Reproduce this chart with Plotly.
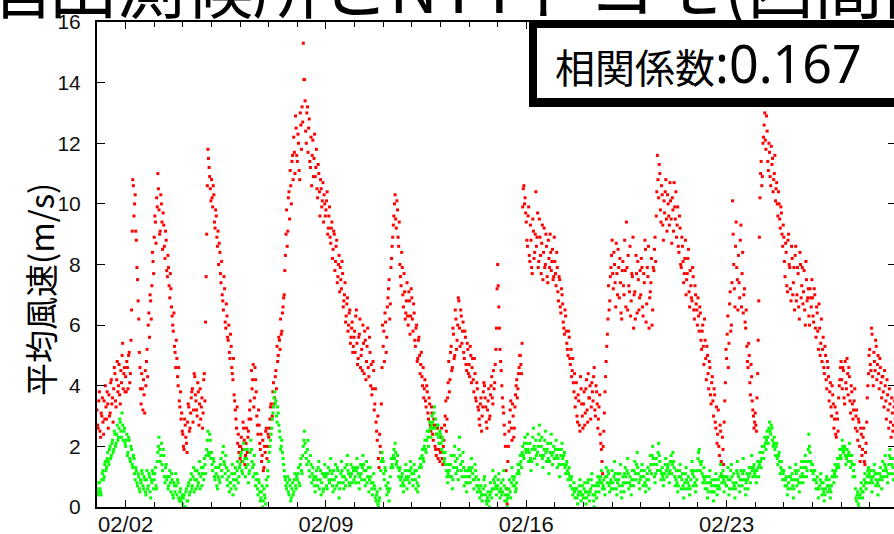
import pandas as pd
import plotly.graph_objects as go

# ---- data: values on the hour (…_a) and on the half hour (…_b) ----
start = "2016-02-01 00:00"
x_range = ["2016-02-01 00:00", "2016-02-28 20:24"]

red_w1_a = [3.2,2.6,3.8,2.3,3.0,2.8,3.5,4.0,2.9,3.4,3.7,3.1,4.2,3.6,3.9,4.4,3.3,4.8,4.0,3.7,4.5,5.0,3.9,4.6,
            4.3,4.8,3.9,5.1,4.4,6.5,10.8,9.6,10.3,8.8,7.5,6.2,4.6,3.4,3.9,4.2,3.1,4.0,5.2,6.0,5.6,6.8,7.3,8.1,
            8.9,9.4,10.2,11.0,9.8,9.1,10.0,8.5,9.3,8.2,8.8,7.6,7.9,6.9,7.2,6.3,5.8,5.3,4.6,4.9,4.0,3.5,3.8,3.1,
            2.4,1.9,2.7,2.1,2.8,3.3,2.6,3.6,3.9,3.2,4.3,3.5,3.0,3.8,3.4,2.9,3.6,3.1,4.4,6.1,9.0,11.8,11.2,10.5,
            10.8,9.9,10.3,9.2,9.6,8.6,8.0,8.4,7.4,7.0,6.5,7.2,5.9,6.3,5.5,5.1,5.7,4.6,4.2,3.7,3.2,2.6,2.1,1.8,
            1.6,2.3,1.9,2.6,1.4,2.1,1.8,2.5,3.2,2.9,3.9,4.7,3.6,4.2,3.0,2.4,2.7,1.9,1.5,2.2,1.3,1.8,2.6,2.0,
            2.3,2.9,3.4,3.0,4.1,3.6,4.5,5.3,5.0,5.5,6.2,5.8,6.6,7.0,8.3,9.8,9.1,10.4,11.1,10.0,11.6,12.2,11.0,12.5]
red_w1_b = [2.7,3.5,2.5,3.1,3.6,2.4,2.9,3.3,3.8,2.6,3.0,4.1,3.4,2.8,4.6,3.5,4.2,3.8,4.7,3.4,4.1,5.4,4.4,3.8,
            3.8,4.6,5.0,4.1,5.5,9.1,10.6,10.0,9.1,7.9,6.8,5.1,3.9,4.4,3.2,3.7,4.5,4.8,4.3,6.4,7.0,6.2,8.4,7.7,
            9.6,8.7,9.9,10.5,9.0,10.3,9.4,9.7,8.6,9.1,7.8,8.3,7.3,7.7,6.6,6.0,6.4,5.1,5.5,4.3,4.6,3.3,2.9,2.5,
            2.0,2.9,2.3,1.8,3.4,2.5,3.1,3.8,2.8,4.4,3.7,3.2,4.1,2.7,3.9,3.3,2.6,4.2,3.5,7.6,10.6,11.5,10.9,10.1,
            10.2,10.6,9.4,9.8,8.9,9.1,8.7,7.7,8.1,6.8,7.6,6.1,6.7,5.6,6.0,4.9,5.3,4.4,4.9,3.5,2.9,3.3,2.4,2.0,
            2.0,1.5,2.8,2.2,1.7,2.6,2.3,2.9,3.5,4.5,4.2,3.3,4.6,3.8,2.7,3.2,2.1,2.4,1.7,1.2,2.0,2.5,1.6,2.4,
            2.6,3.3,2.9,3.8,3.4,4.3,3.9,4.8,5.6,5.2,5.7,6.4,6.9,7.8,9.0,8.6,10.2,9.5,10.6,11.4,10.8,11.7,12.9,11.6]
red_w2_a = [11.4,12.0,10.8,12.6,13.2,15.3,14.1,12.4,13.0,11.7,12.8,11.2,10.6,12.1,11.5,10.9,11.8,10.2,11.0,9.6,10.5,10.1,9.4,10.0,
            9.8,10.4,9.2,9.9,8.7,9.4,8.5,9.0,8.1,8.8,7.6,8.3,7.9,7.2,7.7,6.8,7.4,6.3,6.9,6.0,6.5,5.6,6.1,5.3,
            5.8,6.3,5.4,4.9,5.7,4.6,5.2,6.0,4.4,5.5,4.8,5.9,4.3,5.1,4.7,3.9,4.5,3.4,2.8,2.2,1.6,2.4,1.8,4.6,
            5.3,4.8,6.1,5.6,6.9,7.5,6.7,8.2,8.9,9.6,10.3,9.2,9.8,8.6,8.0,7.3,7.9,6.6,7.1,6.4,7.4,6.0,6.8,6.3,
            6.9,5.8,6.4,5.3,6.0,4.9,5.6,4.4,5.1,4.0,3.6,4.2,3.3,3.8,2.9,3.4,2.5,3.1,2.2,2.7,1.9,2.4,1.6,2.1,
            1.8,2.6,1.4,2.2,3.0,2.5,3.6,4.8,4.2,5.3,4.6,5.7,5.0,6.2,5.5,6.9,5.9,6.5,5.4,6.1,4.9,5.6,4.5,5.2,
            4.7,5.3,4.1,4.9,3.8,4.4,3.5,3.9,3.2,2.7,3.6,3.0,3.8,4.0,3.3,2.6,3.5,2.9,3.7,4.3,3.4,3.9,4.7,5.9]
red_w2_b = [12.3,11.1,13.0,11.8,12.7,14.1,13.4,12.0,13.2,12.5,11.4,12.2,11.6,10.9,12.3,11.2,10.5,11.3,10.4,10.8,9.9,10.7,10.3,9.6,
            10.1,9.0,9.6,8.9,9.2,8.2,9.1,7.8,8.6,7.4,8.0,7.1,7.5,8.1,6.6,7.0,6.1,6.7,5.8,6.4,5.4,5.9,5.1,5.6,
            5.1,6.5,4.7,5.6,6.2,5.0,4.5,5.4,5.8,4.2,5.3,4.6,5.6,4.0,3.7,4.8,3.2,3.9,2.5,3.0,1.3,2.0,3.4,6.0,
            5.8,6.4,5.1,6.6,7.2,6.2,7.9,8.6,9.3,10.0,9.5,10.1,8.9,9.4,7.6,8.4,7.0,7.7,6.2,6.8,6.3,7.1,5.7,7.2,
            6.2,6.7,5.5,5.9,4.8,5.5,5.0,4.7,4.3,4.6,3.9,3.5,4.0,3.1,3.6,2.7,3.3,2.4,2.9,2.0,1.7,2.6,1.9,1.5,
            2.3,1.6,2.0,2.7,3.5,2.9,4.1,3.8,5.1,4.5,5.9,4.9,6.5,5.2,6.0,6.8,5.3,6.3,5.8,5.1,5.8,4.7,5.4,4.4,
            4.3,5.0,4.6,4.2,4.9,3.6,4.1,3.3,2.9,3.4,2.5,3.3,4.1,3.6,2.8,3.2,3.9,3.0,4.0,3.6,4.5,4.1,5.2,7.2]
red_w3_a = [8.0,6.6,5.2,4.5,3.6,3.1,2.4,1.2,0.1,2.0,2.8,3.5,2.2,3.0,2.6,3.7,4.2,3.9,4.6,5.0,4.4,9.9,10.6,10.2,
            9.4,8.6,9.9,8.1,8.8,7.7,9.1,8.4,10.4,8.9,7.9,9.5,8.3,8.7,7.5,9.2,8.0,8.6,7.4,8.2,9.0,7.8,8.5,7.6,
            8.1,7.3,7.9,6.8,7.5,6.4,7.0,6.1,5.7,6.3,5.4,5.0,5.6,4.7,4.3,4.9,3.8,3.3,4.1,2.8,3.5,2.5,3.9,3.0,
            3.4,2.7,3.9,3.2,4.4,3.6,2.9,4.1,3.5,4.6,3.0,3.8,2.6,3.3,2.4,1.9,1.1,2.5,3.8,4.8,5.7,7.3,6.8,7.9,
            8.8,7.2,8.0,6.6,7.7,8.5,6.9,7.4,6.2,8.1,7.0,7.8,9.4,6.5,7.3,8.6,6.8,7.6,5.9,7.1,8.3,6.4,7.5,6.9,
            7.0,7.9,6.3,7.4,8.5,6.7,7.6,5.9,7.1,8.2,6.5,7.8,8.9,9.6,11.6,10.2,11.0,9.4,10.3,8.8,9.7,10.8,9.1,10.0,
            9.3,10.1,8.7,9.8,10.7,9.5,8.9,9.9,8.4,9.2,7.9,8.6,7.4,8.2,7.0,7.7,8.5,6.6,7.3,6.8,7.6,6.2,7.0,6.5]
red_w3_b = [7.3,5.9,4.8,4.0,3.3,2.7,2.0,0.6,1.5,2.5,3.2,2.6,3.4,2.3,3.3,4.0,3.6,4.4,5.0,4.7,5.4,10.5,10.0,9.7,
            8.8,9.6,8.3,9.3,7.9,9.5,8.2,9.0,8.6,9.7,8.1,8.9,7.7,9.3,8.4,7.9,9.0,7.6,8.8,7.9,8.4,8.1,7.5,8.9,
            7.7,8.4,7.1,7.6,6.6,7.2,6.7,5.9,6.5,5.8,5.2,5.8,4.9,5.2,4.5,4.1,4.4,3.6,3.0,3.7,2.7,4.3,3.4,2.6,
            3.8,3.1,4.2,2.8,3.6,4.0,3.3,3.8,4.3,3.2,4.0,3.4,2.9,3.7,2.1,1.5,2.0,3.1,4.3,5.3,6.2,6.5,7.6,8.3,
            7.7,8.4,7.4,8.7,7.0,7.9,8.2,6.4,7.8,7.3,8.8,6.6,7.9,8.3,7.1,6.3,7.7,8.9,7.0,6.2,7.7,8.1,6.5,7.8,
            8.2,6.6,7.7,8.8,6.1,7.9,8.6,6.9,7.4,6.0,7.9,8.5,8.1,10.4,10.8,11.3,9.8,10.6,9.3,10.1,10.4,9.5,10.3,9.6,
            10.7,9.5,10.2,9.1,9.9,10.4,9.3,8.6,9.6,8.0,8.9,8.1,7.7,8.8,7.5,8.2,7.1,7.8,6.9,7.9,6.5,7.3,6.7,6.0]
red_w4_a = [6.9,5.8,6.4,5.2,6.0,4.7,5.5,4.2,5.0,3.9,4.6,3.4,4.3,3.0,3.7,2.6,2.1,3.2,1.7,2.5,1.0,1.9,2.8,4.1,
            4.9,6.3,5.4,7.1,6.0,10.1,8.0,6.6,9.4,7.5,8.3,6.9,9.3,7.7,6.4,7.2,5.9,5.3,4.6,5.0,3.7,4.3,3.2,2.6,
            3.1,2.5,4.4,6.8,10.2,11.4,10.9,12.2,13.0,11.8,12.4,11.1,11.7,10.6,11.3,10.4,11.0,10.1,10.7,9.6,10.0,9.2,9.7,8.6,
            8.9,7.6,8.4,7.1,9.0,7.9,6.8,8.2,7.4,6.5,8.6,7.0,7.7,6.2,8.0,7.3,6.7,7.8,6.0,7.5,6.9,6.3,7.2,6.6,
            6.9,6.1,7.0,5.6,6.4,5.2,5.9,5.4,4.8,5.6,4.4,5.0,3.9,4.6,3.5,4.1,3.0,3.7,2.6,3.3,2.3,2.9,3.6,4.2,
            4.8,3.9,4.5,3.4,4.1,4.9,3.7,4.3,3.1,3.8,2.9,3.5,2.6,3.2,2.2,2.8,1.5,2.4,1.9,2.6,1.4,2.1,3.6,4.4,
            5.2,4.5,5.7,4.0,4.8,5.5,4.2,5.0,3.9,4.6,3.6,4.3,3.3,4.0,2.9,3.7,2.6,3.4,2.3,3.1,2.7,3.5,2.4,3.0]
red_w4_b = [6.3,6.6,5.5,5.8,5.3,6.2,4.9,5.3,4.4,4.8,3.7,4.1,3.5,3.9,2.8,3.3,2.4,2.0,2.7,1.5,2.3,1.4,3.5,5.2,
            5.7,4.6,6.7,5.8,7.4,9.0,7.2,8.6,7.9,6.5,7.4,8.8,6.6,8.4,7.0,6.1,6.5,4.8,5.4,4.1,4.7,3.5,3.0,2.8,
            2.7,3.6,5.5,8.9,11.0,10.6,12.0,12.6,12.1,12.9,11.4,12.0,10.9,11.9,11.5,10.8,11.6,10.5,10.0,10.4,9.5,9.9,9.0,9.3,
            8.1,8.7,7.3,8.8,8.0,7.2,8.6,7.0,7.9,8.3,6.8,7.9,6.6,8.4,6.9,7.9,7.1,6.5,8.1,6.8,7.2,6.0,6.9,7.5,
            6.3,7.2,5.9,6.6,5.8,6.7,5.0,6.2,5.2,4.6,5.3,4.2,4.8,4.3,3.8,3.3,4.0,3.4,2.9,2.4,3.1,2.5,4.0,4.6,
            4.2,4.6,3.6,4.8,3.9,4.4,4.6,3.5,4.0,3.4,3.2,3.9,3.0,2.5,2.9,2.0,2.6,1.7,2.3,1.5,1.8,2.8,4.0,5.0,
            4.7,5.9,4.3,5.1,4.5,5.3,4.7,4.4,4.9,4.1,4.3,3.8,4.5,3.5,4.2,3.2,3.9,2.8,3.6,2.5,3.3,2.9,3.6,2.7]

green_w1_a = [0.6,0.4,0.8,0.5,0.9,1.2,1.0,1.5,1.3,1.8,1.4,2.0,1.7,2.2,1.9,2.4,2.1,2.7,2.3,2.9,2.5,3.1,2.2,2.6,
              2.0,2.4,1.8,2.2,1.5,1.9,1.3,1.6,0.9,1.2,0.7,1.0,0.5,0.8,1.1,0.6,0.9,0.4,1.2,0.7,1.0,0.3,0.8,1.1,
              0.9,1.3,0.6,1.8,2.3,1.5,2.1,1.2,1.7,0.8,1.4,1.0,0.7,1.2,0.5,0.9,0.3,0.7,1.1,0.4,0.8,0.2,0.6,0.3,
              0.1,0.4,0.0,0.6,0.2,0.8,0.5,1.1,0.7,1.3,0.9,0.6,1.2,0.8,1.5,1.0,0.7,1.3,1.6,1.1,1.9,2.5,1.7,2.2,
              1.8,1.2,1.5,0.9,1.1,0.6,1.3,0.8,1.6,1.0,2.0,1.4,1.7,0.9,1.2,0.5,0.8,1.1,0.4,0.7,1.3,0.9,1.5,1.0,
              1.4,1.8,1.1,2.1,1.6,1.3,1.9,0.8,1.2,2.2,1.5,1.0,1.7,0.7,1.1,0.4,0.8,0.2,0.5,0.0,0.6,0.3,0.9,1.2,
              1.5,2.0,2.4,2.9,3.3,3.8,3.5,2.8,3.1,2.5,1.9,2.2,1.6,1.2,0.9,0.6,1.0,0.4,0.7,0.3,0.8,0.5,1.1,0.6]
green_w1_b = [0.5,0.8,0.6,0.4,1.1,0.9,1.4,1.2,1.6,1.5,1.9,1.6,2.1,1.8,2.5,2.0,2.4,2.2,2.6,2.8,2.3,2.7,2.5,2.1,
              2.2,1.7,2.3,1.6,2.0,1.4,1.7,1.1,1.3,0.8,1.1,0.6,0.9,1.2,0.7,1.0,0.5,0.9,0.6,1.1,0.5,0.9,1.2,0.6,
              1.1,0.7,1.5,2.0,1.9,1.7,1.4,1.9,1.0,1.3,0.9,0.6,1.0,0.8,1.1,0.4,0.8,0.5,0.7,0.9,0.3,0.5,0.2,0.4,
              0.3,0.0,0.5,0.2,0.7,0.4,0.9,0.6,1.0,0.5,1.2,0.9,0.7,1.1,0.6,1.3,1.1,0.9,1.4,1.7,2.2,1.8,2.4,1.6,
              1.4,1.6,1.0,1.3,0.7,1.0,0.9,1.4,1.2,1.8,1.5,1.1,1.3,0.7,1.0,0.8,0.6,1.4,0.9,1.1,0.6,1.2,0.8,1.3,
              1.7,1.2,1.5,1.9,1.0,1.6,1.4,1.1,1.8,1.9,1.3,1.4,1.1,0.9,0.6,0.9,0.5,0.3,0.7,0.2,0.4,0.1,0.7,1.0,
              1.8,2.2,2.6,3.1,3.6,3.4,3.0,3.3,2.7,2.3,2.0,1.8,1.4,1.0,0.7,0.8,0.5,0.9,0.2,0.6,0.4,0.9,0.7,1.0]
green_w2_a = [0.9,1.3,0.7,1.6,1.1,2.0,2.5,1.8,1.4,2.2,1.2,1.7,0.8,1.3,1.0,0.5,1.2,0.7,1.5,0.9,0.4,1.1,0.6,1.4,
              1.0,0.6,1.3,0.8,1.6,1.1,0.5,0.9,1.4,0.7,1.2,0.3,0.8,1.5,1.0,0.6,1.3,0.9,1.7,1.1,0.7,1.4,0.8,1.2,
              1.3,0.8,1.6,1.1,0.6,1.4,0.9,1.7,1.2,0.7,1.5,1.0,0.5,1.3,0.8,0.4,1.1,0.6,0.2,0.5,0.0,0.3,1.2,1.8,
              1.5,0.9,1.2,0.4,0.8,0.2,1.0,1.6,1.3,1.9,2.1,1.4,1.7,1.0,1.3,0.7,1.1,0.5,0.9,1.4,0.6,1.2,0.8,1.5,
              1.1,0.7,1.4,0.9,1.2,0.5,1.0,1.6,1.3,1.9,1.5,2.2,1.8,2.5,2.0,2.8,2.3,3.0,2.6,3.3,2.9,2.4,2.7,2.1,
              2.4,1.9,2.2,1.5,1.8,1.2,0.8,1.4,1.0,1.7,0.6,1.3,2.0,1.1,1.6,0.9,2.3,1.4,1.0,1.8,0.7,1.2,0.5,1.0,
              1.3,0.8,1.6,1.1,0.6,1.4,1.0,0.5,0.9,0.3,0.7,0.2,0.6,1.0,0.4,0.1,0.5,0.0,0.8,0.3,1.2,0.6,1.0,0.4]
green_w2_b = [1.1,0.8,1.4,1.2,1.7,2.2,2.1,1.6,1.9,1.5,1.0,1.4,1.1,0.9,0.7,1.0,0.9,1.3,0.6,1.2,0.8,0.5,1.0,1.1,
              0.7,1.1,0.9,1.2,0.9,0.7,1.2,0.6,1.0,1.3,0.8,0.6,1.1,1.2,0.8,1.0,0.7,1.4,1.2,0.8,1.0,1.1,1.3,0.9,
              1.0,1.2,1.3,0.8,1.0,1.1,1.3,1.4,0.9,1.2,0.8,1.3,0.9,1.0,0.6,0.8,0.7,0.3,0.4,0.1,0.2,0.6,1.5,1.6,
              1.1,1.3,0.7,0.6,0.5,0.6,1.3,1.4,1.7,1.6,1.8,1.5,1.3,1.2,0.9,1.0,0.8,0.7,1.2,1.0,0.9,1.0,1.2,1.3,
              0.9,1.1,1.2,0.6,0.8,0.7,1.3,1.4,1.7,1.6,2.0,1.9,2.2,2.3,2.5,2.6,2.7,2.8,3.1,2.6,2.4,2.7,2.3,2.5,
              2.1,2.3,1.8,1.6,1.4,1.0,1.1,1.2,1.4,1.0,0.9,1.7,1.5,1.3,1.2,1.9,1.7,1.2,1.5,1.3,1.0,0.8,0.8,1.2,
              1.0,1.2,1.3,0.9,0.9,1.2,0.7,0.7,0.6,0.5,0.4,0.4,0.9,0.7,0.2,0.3,0.2,0.4,0.5,0.6,0.9,0.8,0.7,0.6]
green_w3_a = [0.7,1.1,0.3,0.8,0.5,1.2,0.2,0.6,0.0,0.4,0.9,0.3,1.3,0.7,1.0,0.5,0.8,1.4,1.1,1.7,1.3,2.0,1.6,2.3,
              1.8,2.4,1.5,2.1,1.2,1.9,2.6,1.6,2.2,1.4,2.0,2.7,1.7,2.3,1.3,1.9,2.5,1.5,2.1,1.1,1.8,2.4,1.4,2.0,
              1.6,2.2,1.3,1.9,1.0,1.7,2.1,1.4,1.8,1.1,1.5,0.9,1.3,0.7,1.0,0.4,0.8,0.3,0.6,0.1,0.5,0.9,0.2,0.7,
              0.3,0.8,0.1,0.5,0.9,0.2,0.6,1.1,0.4,0.0,0.7,0.3,1.0,0.5,0.8,1.2,0.6,0.9,0.4,1.3,0.8,1.1,0.5,0.9,
              1.2,0.6,1.5,0.9,0.4,1.1,0.7,1.4,0.3,1.0,0.5,1.3,0.8,1.6,0.6,1.0,0.4,1.2,0.7,1.5,0.9,1.8,1.1,0.6,
              1.0,1.4,0.7,1.2,0.5,0.9,1.3,0.6,1.7,1.1,2.0,1.4,0.8,1.6,1.2,2.1,1.5,0.9,1.3,0.7,1.1,1.6,1.0,1.4,
              0.8,1.5,1.1,1.8,1.3,0.7,1.2,0.5,1.0,1.4,0.6,1.1,0.3,0.8,1.3,0.6,1.0,0.4,0.9,1.5,0.7,1.2,0.5,0.9]
green_w3_b = [0.9,0.5,0.6,0.4,0.9,0.7,0.4,0.2,0.3,0.6,0.5,0.8,1.0,0.9,0.7,0.6,1.1,1.2,1.4,1.5,1.8,1.7,2.1,1.9,
              2.1,1.9,1.8,1.6,1.5,2.3,2.0,1.9,1.7,1.8,2.4,2.2,2.0,1.6,1.7,2.2,1.8,1.9,1.6,1.5,2.1,1.7,1.8,1.6,
              1.9,1.7,1.6,1.4,1.4,1.9,1.6,1.7,1.3,1.4,1.2,1.1,1.0,0.9,0.6,0.6,0.5,0.6,0.3,0.4,0.7,0.5,0.4,0.4,
              0.6,0.5,0.3,0.8,0.4,0.5,0.9,0.7,0.2,0.4,0.5,0.8,0.7,0.9,1.0,0.8,0.7,0.6,1.0,1.0,1.2,0.7,0.8,0.6,
              0.8,1.0,1.1,0.6,0.8,0.9,1.1,0.5,0.7,0.8,1.1,1.0,1.2,1.1,0.8,0.7,0.9,0.9,1.2,1.1,1.4,1.3,0.8,0.9,
              1.2,1.0,1.0,0.8,0.7,1.1,0.9,1.2,1.4,1.7,1.6,1.0,1.1,1.4,1.8,1.7,1.2,1.1,1.0,0.9,1.4,1.2,1.3,1.1,
              1.2,1.7,1.4,1.5,1.0,0.9,0.8,0.7,1.2,1.0,0.9,0.7,0.6,1.1,0.9,0.8,0.7,0.6,1.2,1.1,1.0,0.8,0.7,1.2]
green_w4_a = [1.6,1.9,1.2,1.5,0.8,1.3,0.6,1.0,0.3,0.8,1.2,0.5,0.9,0.2,0.7,1.1,0.4,0.9,0.6,1.4,0.8,1.2,0.5,1.0,
              0.7,1.3,0.4,0.9,1.4,0.6,1.1,0.3,0.8,1.5,1.0,0.5,1.2,0.7,1.6,0.9,0.4,1.1,0.6,1.3,0.8,1.7,1.0,1.4,
              1.2,0.8,1.5,1.0,1.8,1.3,2.0,1.6,2.3,1.9,2.5,2.1,2.8,2.4,2.6,2.0,2.3,1.7,2.1,1.4,1.8,1.1,1.5,0.9,
              1.2,0.7,1.0,0.4,0.8,1.3,0.6,1.1,0.3,0.9,1.4,0.7,1.2,0.5,1.0,1.5,0.8,1.3,1.7,1.0,1.5,2.4,1.8,1.2,
              1.4,0.9,1.2,0.6,1.0,0.3,0.7,1.1,0.4,0.8,0.2,0.6,1.0,0.5,0.9,0.3,0.7,1.2,0.8,1.4,1.0,1.6,1.3,1.9,
              1.6,2.2,1.8,2.0,1.4,1.9,1.5,2.1,1.3,1.7,1.0,1.4,0.6,0.2,0.5,0.0,0.4,0.8,0.3,0.7,1.1,0.6,1.0,1.3,
              0.8,1.2,0.5,1.0,1.4,0.7,1.1,0.4,0.9,1.3,0.6,1.5,1.0,1.7,1.2,0.8,1.4,1.9,1.1,1.6,0.9,1.3,2.0,1.5]
green_w4_b = [1.8,1.5,1.4,1.1,1.0,0.9,0.8,0.6,0.5,1.0,0.8,0.7,0.5,0.5,0.9,0.7,0.6,0.7,1.0,1.1,1.0,0.9,0.8,0.7,
              1.0,0.9,0.6,1.2,1.0,0.8,0.7,0.6,1.2,1.1,0.7,0.9,0.9,1.1,1.2,0.6,0.8,0.9,1.0,1.1,1.3,1.2,1.3,1.1,
              1.0,1.2,1.3,1.4,1.5,1.6,1.8,2.0,2.1,2.2,2.3,2.6,2.5,2.7,2.2,2.1,1.9,2.0,1.6,1.7,1.5,1.3,1.2,1.1,
              0.9,0.9,0.7,0.6,1.0,1.0,0.9,0.7,0.6,1.2,1.1,0.9,0.8,0.8,1.3,1.1,1.0,1.5,1.3,1.2,1.9,2.0,1.5,1.4,
              1.1,1.2,0.9,0.8,0.6,0.6,0.9,0.8,0.6,0.5,0.4,0.9,0.7,0.7,0.6,0.5,1.0,1.0,1.1,1.2,1.3,1.4,1.6,1.7,
              1.9,2.0,1.9,1.7,1.6,1.7,1.8,1.7,1.5,1.4,1.2,1.0,0.3,0.4,0.1,0.3,0.6,0.5,0.5,0.9,0.8,0.8,1.2,1.1,
              1.0,0.9,0.8,1.2,1.1,0.9,0.8,0.7,1.1,1.0,0.9,1.2,1.4,1.3,1.0,1.1,1.7,1.6,1.4,1.3,1.1,1.6,1.7,1.2]

y_ticks = [0, 2, 4, 6, 8, 10, 12, 14, 16]
title_text = "酒田測候所とNTTドコモ(西間部"
ylabel_text = "平均風速(m/s)"
corr_label = "相関係数"
corr_value = ":0.167"

red_a = red_w1_a + red_w2_a + red_w3_a + red_w4_a
red_b = red_w1_b + red_w2_b + red_w3_b + red_w4_b
green_a = green_w1_a + green_w2_a + green_w3_a + green_w4_a
green_b = green_w1_b + green_w2_b + green_w3_b + green_w4_b

t0 = pd.Timestamp(start)
t_red = list(pd.date_range(t0, periods=len(red_a), freq="h")) + \
        list(pd.date_range(t0 + pd.Timedelta(minutes=30), periods=len(red_b), freq="h"))
t_green = list(pd.date_range(t0, periods=len(green_a), freq="h")) + \
          list(pd.date_range(t0 + pd.Timedelta(minutes=30), periods=len(green_b), freq="h"))
red = red_a + red_b
green = green_a + green_b

# ---- figure ----
W, H = 894, 534
L, R, T, B = 97, 0, 22, 27
pw, ph = W - L - R, H - T - B

def px_x(px):
    return (px - L) / pw

def px_y(py):
    return (H - B - py) / ph

fig = go.Figure()
fig.add_trace(go.Scatter(x=t_red, y=red, mode="markers",
                         marker=dict(symbol="square", size=3, color="#ff0000", line=dict(width=0)),
                         showlegend=False))
fig.add_trace(go.Scatter(x=t_green, y=green, mode="markers",
                         marker=dict(symbol="square", size=3, color="#00ff00", line=dict(width=0)),
                         showlegend=False))
fig.add_trace(go.Scatter(x=[], y=[], yaxis="y2", showlegend=False))

tickfont = dict(family="Liberation Sans, Arial, sans-serif", size=21, color="#111")
xtickfont = dict(family="Liberation Sans, Arial, sans-serif", size=22, color="#111")
fig.update_layout(
    width=W, height=H,
    margin=dict(l=L, r=R, t=T, b=B, pad=0, autoexpand=False),
    paper_bgcolor="white", plot_bgcolor="white",
    xaxis=dict(type="date", range=x_range, showgrid=False, zeroline=False, automargin=False,
               showline=True, linecolor="black", linewidth=2, mirror="ticks",
               ticks="inside", ticklen=7, tickwidth=1, tickcolor="black",
               tick0="2016-02-02", dtick=7 * 86400000, tickformat="%m/%d",
               minor=dict(dtick=86400000, ticks="inside", ticklen=5, tickcolor="black", showgrid=False),
               tickfont=xtickfont, ticklabelstandoff=-3),
    yaxis=dict(range=[0, 16], tickvals=y_ticks, showgrid=False, zeroline=False, automargin=False,
               showline=True, linecolor="black", linewidth=2,
               ticks="inside", ticklen=8, tickwidth=1, tickcolor="black",
               tickfont=tickfont, ticklabelstandoff=10),
    yaxis2=dict(range=[0, 16], tickvals=y_ticks, overlaying="y", side="right", automargin=False,
                showgrid=False, zeroline=False, showline=False,
                ticks="inside", ticklen=6, tickcolor="black", showticklabels=False),
)

shapes = [
    dict(type="rect", xref="paper", yref="paper", layer="above",
         x0=px_x(529), x1=px_x(900), y0=px_y(107), y1=px_y(21),
         fillcolor="black", line=dict(width=0)),
    dict(type="rect", xref="paper", yref="paper", layer="above",
         x0=px_x(537), x1=px_x(900), y0=px_y(98), y1=px_y(28),
         fillcolor="white", line=dict(width=0)),
]
fig.update_layout(shapes=shapes)

cjk = "Noto Sans CJK JP"
corr_html = ('<span style="font-family:Noto Sans CJK JP;font-size:40px">' + corr_label + '</span>'
             '<span style="font-family:Noto Sans;font-size:52px">' + corr_value + '</span>')
fig.add_annotation(text=corr_html, xref="paper", yref="paper",
                   x=px_x(553), y=px_y(62), xanchor="left", yanchor="middle",
                   showarrow=False, font=dict(family=cjk, size=40, color="black"))
fig.add_annotation(text=ylabel_text, xref="paper", yref="paper", textangle=-90,
                   x=px_x(40), y=px_y(290), xanchor="center", yanchor="middle",
                   showarrow=False, font=dict(family=cjk, size=33, color="black"))
fig.add_annotation(text=title_text, xref="paper", yref="paper",
                   x=px_x(-21), y=px_y(-17), xanchor="left", yanchor="middle",
                   showarrow=False, font=dict(family=cjk, size=68, color="black"))

fig.write_html("out.html", config={"displayModeBar": False},
               post_script="document.body.style.margin='0';document.body.style.padding='0';"
                           "document.body.style.overflow='hidden';")
